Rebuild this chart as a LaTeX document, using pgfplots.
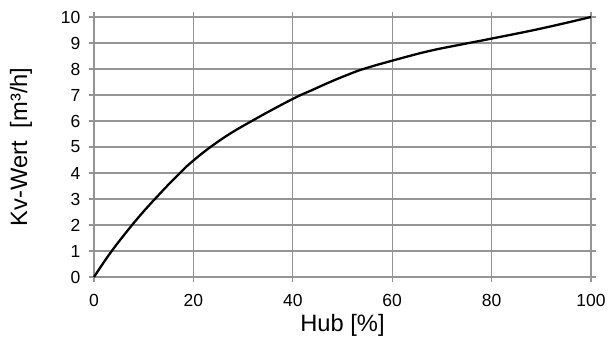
\documentclass[border=0pt]{standalone}
\usepackage{fontspec}
\setmainfont{Liberation Sans}
\usepackage{pgfplots}
\pgfplotsset{compat=1.18}
\begin{document}
\begin{tikzpicture}
\path[use as bounding box] (-94pt,-61pt) rectangle (515pt,277pt);
\begin{axis}[
  at={(0pt,0pt)}, anchor=south west,
  scale only axis, width=497pt, height=260pt,
  xmin=0, xmax=100, ymin=0, ymax=10,
  xtick={0,20,...,100}, ytick={0,1,...,10},
  grid=major,
  major grid style={draw=black!42, line width=1.3pt},
  axis line style={draw=none},
  tick align=outside, major tick length=5pt,
  tick style={draw=black!42, line width=1.3pt},
  /pgf/number format/assume math mode=true,
  tick label style={font=\fontsize{17.5}{20}\selectfont},
  xticklabel style={yshift=-9pt},
  yticklabel style={xshift=-5pt},
  xlabel={Hub [\%]},
  ylabel={Kv-Wert\ \ [m³/h]},
  label style={font=\fontsize{23.7}{26}\selectfont},
  xlabel style={at={(axis description cs:0.5,-0.185)}, anchor=center},
  ylabel style={at={(axis description cs:-0.147,0.5)}, anchor=center},
  clip=false,
]
\addplot[black, line width=2.3pt, smooth, tension=0.7] coordinates {
(0,0) (3,0.85) (5.9,1.58) (9.2,2.35) (12.5,3.05) (16,3.75) (20,4.48) (25.9,5.33) (32.5,6.08) (40,6.85) (44,7.2) (47.5,7.5) (50.8,7.76) (54.2,8.0) (60,8.32) (67.4,8.69) (74.1,8.95) (80,9.17) (89.8,9.55) (100,10)
};
\end{axis}
\end{tikzpicture}
\end{document}
